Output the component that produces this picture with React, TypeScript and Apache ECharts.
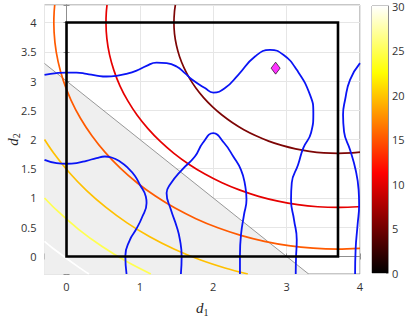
import React, { useEffect, useRef } from 'react';
import * as echarts from 'echarts';

// Axis ranges
const xRange = [-0.3, 4];
const yRange = [-0.3, 4.3];
const colorRange = [0, 30];

// Contour levels (hot colormap) and their traced curves [d1, d2]
const contourLevels = [5, 10, 15, 20, 25, 30];
const contourColors = ['#7d0505', '#e60000', '#ff5a00', '#ffc000', '#ffff50', '#ffffff'];
const contour5 = [[1.484, 4.3], [1.472, 4.195], [1.464, 4.0], [1.472, 3.805], [1.498, 3.612], [1.540, 3.421], [1.599, 3.235], [1.673, 3.055], [1.763, 2.882], [1.868, 2.717], [1.987, 2.563], [2.119, 2.419], [2.263, 2.287], [2.417, 2.168], [2.582, 2.064], [2.755, 1.973], [2.935, 1.899], [3.121, 1.840], [3.312, 1.798], [3.505, 1.772], [3.7, 1.764], [3.895, 1.772], [4.0, 1.784]];
const contour10 = [[0.552, 4.3], [0.542, 4.166], [0.538, 4.0], [0.550, 3.724], [0.586, 3.451], [0.646, 3.182], [0.728, 2.918], [0.834, 2.664], [0.961, 2.419], [1.110, 2.186], [1.278, 1.967], [1.464, 1.764], [1.667, 1.578], [1.886, 1.410], [2.119, 1.261], [2.364, 1.134], [2.618, 1.028], [2.882, 0.946], [3.151, 0.886], [3.424, 0.850], [3.7, 0.838], [3.976, 0.850], [4.0, 0.852]];
const contour15 = [[-0.161, 4.3], [-0.169, 4.169], [-0.173, 4.0], [-0.158, 3.662], [-0.114, 3.328], [-0.041, 2.998], [0.061, 2.675], [0.190, 2.363], [0.346, 2.064], [0.527, 1.779], [0.733, 1.511], [0.961, 1.261], [1.211, 1.033], [1.479, 0.827], [1.764, 0.646], [2.063, 0.490], [2.375, 0.361], [2.698, 0.259], [3.028, 0.186], [3.362, 0.142], [3.7, 0.127], [4.0, 0.139]];
const contour20 = [[-0.3, 2.0], [-0.173, 1.764], [0.037, 1.435], [0.274, 1.125], [0.538, 0.838], [0.825, 0.574], [1.135, 0.337], [1.464, 0.127], [1.810, -0.053], [2.171, -0.202], [2.471, -0.3]];
const contour25 = [[-0.3, 1.0], [-0.130, 0.786], [0.164, 0.464], [0.486, 0.170], [0.832, -0.096], [1.149, -0.3]];
const contour30 = [[-0.3, 0.258], [-0.173, 0.127], [0.179, -0.196], [0.307, -0.3]];
const contours = [contour5, contour10, contour15, contour20, contour25, contour30];

// Blue curves
const blueA = [[-0.3, 3.106], [-0.136, 3.135], [0.0, 3.145], [0.136, 3.145], [0.273, 3.123], [0.409, 3.094], [0.545, 3.077], [0.682, 3.089], [0.818, 3.123], [0.955, 3.179], [1.091, 3.26], [1.227, 3.316], [1.364, 3.306], [1.5, 3.248], [1.613, 3.135], [1.705, 3.03], [1.887, 2.879], [2.0, 2.803], [2.16, 2.879], [2.341, 3.106], [2.569, 3.419], [2.774, 3.533], [2.955, 3.448], [3.138, 3.191], [3.319, 2.764], [3.364, 2.451], [3.333, 2.115], [3.228, 1.858], [3.156, 1.567], [3.07, 1.26], [3.06, 0.969], [3.101, 0.627], [3.138, 0.285], [3.128, -0.022], [3.124, -0.3]];
const blueB = [[4.0, 3.306], [3.864, 3.021], [3.797, 2.679], [3.769, 2.422], [3.783, 2.132], [3.864, 1.824], [3.94, 1.482], [3.981, 1.14], [3.988, 0.884], [3.967, 0.542], [3.94, 0.115], [3.933, -0.3]];
const blueC = [[1.559, -0.3], [1.569, 0.0], [1.546, 0.285], [1.501, 0.513], [1.423, 0.798], [1.364, 1.084], [1.409, 1.226], [1.573, 1.482], [1.75, 1.709], [1.859, 1.944], [2.0, 2.109], [2.146, 1.944], [2.273, 1.709], [2.378, 1.482], [2.433, 1.226], [2.453, 0.969], [2.419, 0.713], [2.378, 0.371], [2.364, 0.029], [2.364, -0.3]];
const blueD = [[-0.3, 1.653], [-0.136, 1.597], [0.0, 1.585], [0.136, 1.597], [0.273, 1.636], [0.409, 1.682], [0.523, 1.709], [0.614, 1.692], [0.727, 1.624], [0.84, 1.511], [0.931, 1.38], [1.0, 1.226], [1.081, 1.026], [1.091, 0.913], [1.027, 0.662], [0.945, 0.456], [0.864, 0.285], [0.802, 0.012], [0.818, -0.3]];
const blueCurves = [blueA, blueB, blueC, blueD];

// Feasible box, constraint half-plane, optimum marker
const boxCorners = [[0, 0], [3.7, 0], [3.7, 4], [0, 4], [0, 0]];
const constraintLine = [[-0.3, 3.3], [3.3, -0.3]];
const optimum = [[2.85, 3.22]];
const colorbarValue = [30];

const labelFont = 'Open Sans';
const axisGray = '#8f8f8f';

function nameRich() {
  return {
    i: { fontFamily: 'Liberation Serif', fontStyle: 'italic', fontSize: 15, lineHeight: 18, color: '#262626' },
    s: { fontFamily: 'Liberation Serif', fontSize: 10, lineHeight: 10, verticalAlign: 'bottom', color: '#262626' },
  };
}

export default function App() {
  const ref = useRef<HTMLDivElement>(null);
  useEffect(() => {
    const chart = echarts.init(ref.current!, null, { renderer: 'svg' });
    const hot = new echarts.graphic.LinearGradient(0, 0, 0, 1, [
      { offset: 0, color: '#ffffff' },
      { offset: 0.25, color: '#ffff00' },
      { offset: 0.625, color: '#ff0000' },
      { offset: 1, color: '#000000' },
    ]);
    const fmt = (step: number) => (v: number) => {
      const k = v / step;
      return Math.abs(k - Math.round(k)) < 1e-6 ? String(Math.round(v * 100) / 100) : '';
    };
    const option: any = {
      animation: false,
      grid: [
        { left: 44.5, top: 5, width: 315.5, height: 269, show: true, borderColor: axisGray, borderWidth: 1, backgroundColor: '#ffffff', containLabel: false, outerBoundsMode: 'none' },
        { left: 372, top: 6, width: 16, height: 267, show: true, borderColor: axisGray, borderWidth: 1, containLabel: false, outerBoundsMode: 'none' },
      ],
      xAxis: [
        {
          type: 'value', gridIndex: 0, min: xRange[0], max: xRange[1], minInterval: 1, maxInterval: 1,
          axisLine: { show: true, lineStyle: { color: axisGray } },
          axisTick: { show: true, inside: true, length: 3, lineStyle: { color: axisGray } },
          axisLabel: { formatter: fmt(1), fontFamily: labelFont, fontSize: 11, color: '#333', margin: 7 },
          splitLine: { show: true, lineStyle: { color: '#e6e6e6', width: 1 } },
          name: '{i|d}{s|1}', nameLocation: 'middle', nameGap: 25,
          nameTextStyle: { rich: nameRich() },
        },
        {
          type: 'value', gridIndex: 0, position: 'top', min: xRange[0], max: xRange[1], minInterval: 1, maxInterval: 1,
          axisLine: { show: true, lineStyle: { color: axisGray } },
          axisTick: { show: true, inside: true, length: 3, lineStyle: { color: axisGray } },
          axisLabel: { show: false }, splitLine: { show: false },
        },
        { type: 'category', gridIndex: 1, data: ['c'], show: false, boundaryGap: true },
      ],
      yAxis: [
        {
          type: 'value', gridIndex: 0, min: yRange[0], max: yRange[1], minInterval: 0.5, maxInterval: 0.5,
          axisLine: { show: true, lineStyle: { color: axisGray } },
          axisTick: { show: true, inside: true, length: 3, lineStyle: { color: axisGray } },
          axisLabel: { formatter: fmt(0.5), fontFamily: labelFont, fontSize: 11, color: '#333', margin: 8 },
          splitLine: { show: true, lineStyle: { color: '#e6e6e6', width: 1 } },
          name: '{i|d}{s|2}', nameLocation: 'middle', nameGap: 23, nameRotate: 90, nameMoveOverlap: false,
          nameTextStyle: { rich: nameRich() },
        },
        {
          type: 'value', gridIndex: 0, position: 'right', min: yRange[0], max: yRange[1], minInterval: 0.5, maxInterval: 0.5,
          axisLine: { show: true, lineStyle: { color: axisGray } },
          axisTick: { show: true, inside: true, length: 3, lineStyle: { color: axisGray } },
          axisLabel: { show: false }, splitLine: { show: false },
        },
        {
          type: 'value', gridIndex: 1, position: 'right', min: colorRange[0], max: colorRange[1], interval: 5,
          axisLine: { show: true, lineStyle: { color: axisGray } },
          axisTick: { show: true, inside: true, length: 2, lineStyle: { color: axisGray } },
          axisLabel: { fontFamily: labelFont, fontSize: 11, color: '#333', margin: 4 },
          splitLine: { show: false },
        },
      ],
      series: [
        {
          type: 'line', xAxisIndex: 0, yAxisIndex: 0, data: constraintLine, showSymbol: false, silent: true,
          lineStyle: { color: '#6e6e6e', width: 0.7 },
          areaStyle: { color: '#efefef', opacity: 1, origin: 'start' },
        },
        ...contours.map((c, i) => ({
          type: 'line', name: 'f=' + contourLevels[i], xAxisIndex: 0, yAxisIndex: 0, data: c,
          showSymbol: false, silent: true, smooth: 0.3,
          lineStyle: { color: contourColors[i], width: 1.7 },
        })),
        ...blueCurves.map((c) => ({
          type: 'line', xAxisIndex: 0, yAxisIndex: 0, data: c, showSymbol: false, silent: true, smooth: 0.5,
          lineStyle: { color: '#0a14f5', width: 1.8 },
        })),
        {
          type: 'line', xAxisIndex: 0, yAxisIndex: 0, data: boxCorners, showSymbol: false, silent: true,
          lineStyle: { color: '#000000', width: 2.6, join: 'miter', cap: 'square' },
        },
        {
          type: 'scatter', xAxisIndex: 0, yAxisIndex: 0, data: optimum, symbol: 'diamond', symbolSize: [9, 12], silent: true,
          itemStyle: { color: '#ff00ff', borderColor: '#000000', borderWidth: 0.8 },
        },
        {
          type: 'bar', xAxisIndex: 2, yAxisIndex: 2, data: colorbarValue, barWidth: '100%', silent: true,
          itemStyle: { color: hot },
        },
      ],
    };
    chart.setOption(option);
    return () => chart.dispose();
  }, []);
  return <div ref={ref} style={{ position: 'absolute', left: 0, top: 0, width: 407, height: 316 }} />;
}
